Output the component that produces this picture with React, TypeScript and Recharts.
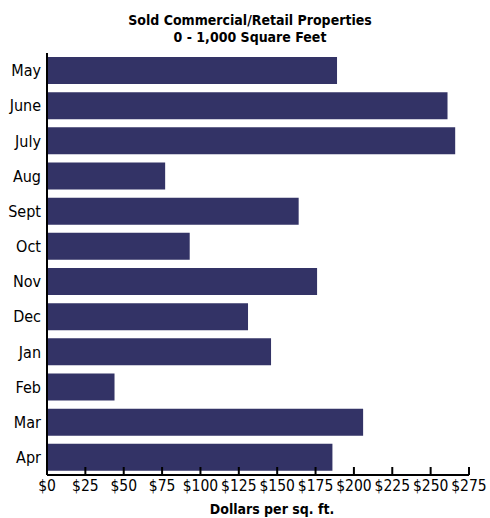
import React from "react";
import { BarChart, Bar, XAxis, YAxis } from "recharts";

const months = ["May", "June", "July", "Aug", "Sept", "Oct", "Nov", "Dec", "Jan", "Feb", "Mar", "Apr"];
const dollarsPerSqFt = [189, 261, 266, 77, 164, 93, 176, 131, 146, 44, 206, 186];
const xTicks = [0, 25, 50, 75, 100, 125, 150, 175, 200, 225, 250, 275];
const titleLines = ["Sold Commercial/Retail Properties", "0 - 1,000 Square Feet"];
const xAxisTitle = "Dollars per sq. ft.";

const data = months.map((m, i) => ({ month: m, value: dollarsPerSqFt[i] }));

const FONT = "'DejaVu Sans Condensed', 'DejaVu Sans', sans-serif";

export default function App() {
  return (
    <div style={{ position: "absolute", left: 0, top: 0, width: 490, height: 518, background: "#fff", fontFamily: FONT }}>
      <div
        style={{
          position: "absolute",
          left: 0,
          top: 12,
          width: 500,
          textAlign: "center",
          fontWeight: "bold",
          fontSize: 14,
          lineHeight: "17px",
          color: "#000",
        }}
      >
        {titleLines.map((t) => (
          <div key={t}>{t}</div>
        ))}
      </div>
      <BarChart
        width={490}
        height={518}
        data={data}
        layout="vertical"
        margin={{ top: 53, right: 21, left: 0, bottom: 13 }}
      >
        <XAxis
          type="number"
          domain={[0, 275]}
          ticks={xTicks}
          interval={0}
          height={30}
          tickFormatter={(v: number) => `$${v}`}
          axisLine={{ stroke: "#000", strokeWidth: 2 }}
          tickLine={{ stroke: "#000", strokeWidth: 2 }}
          tickSize={-8}
          tickMargin={13}
          tick={{ fill: "#000", fontSize: 15.5, fontFamily: FONT }}
        />
        <YAxis
          type="category"
          dataKey="month"
          width={47}
          axisLine={{ stroke: "#000", strokeWidth: 2 }}
          tickLine={false}
          tickSize={0}
          tickMargin={6}
          interval={0}
          tick={{ fill: "#000", fontSize: 16, fontFamily: FONT }}
        />
        <Bar dataKey="value" fill="#333366" barSize={27} isAnimationActive={false} />
      </BarChart>
      <div
        style={{
          position: "absolute",
          left: 172,
          top: 500,
          width: 200,
          textAlign: "center",
          fontWeight: "bold",
          fontSize: 14,
          lineHeight: "18px",
          color: "#000",
        }}
      >
        {xAxisTitle}
      </div>
    </div>
  );
}
